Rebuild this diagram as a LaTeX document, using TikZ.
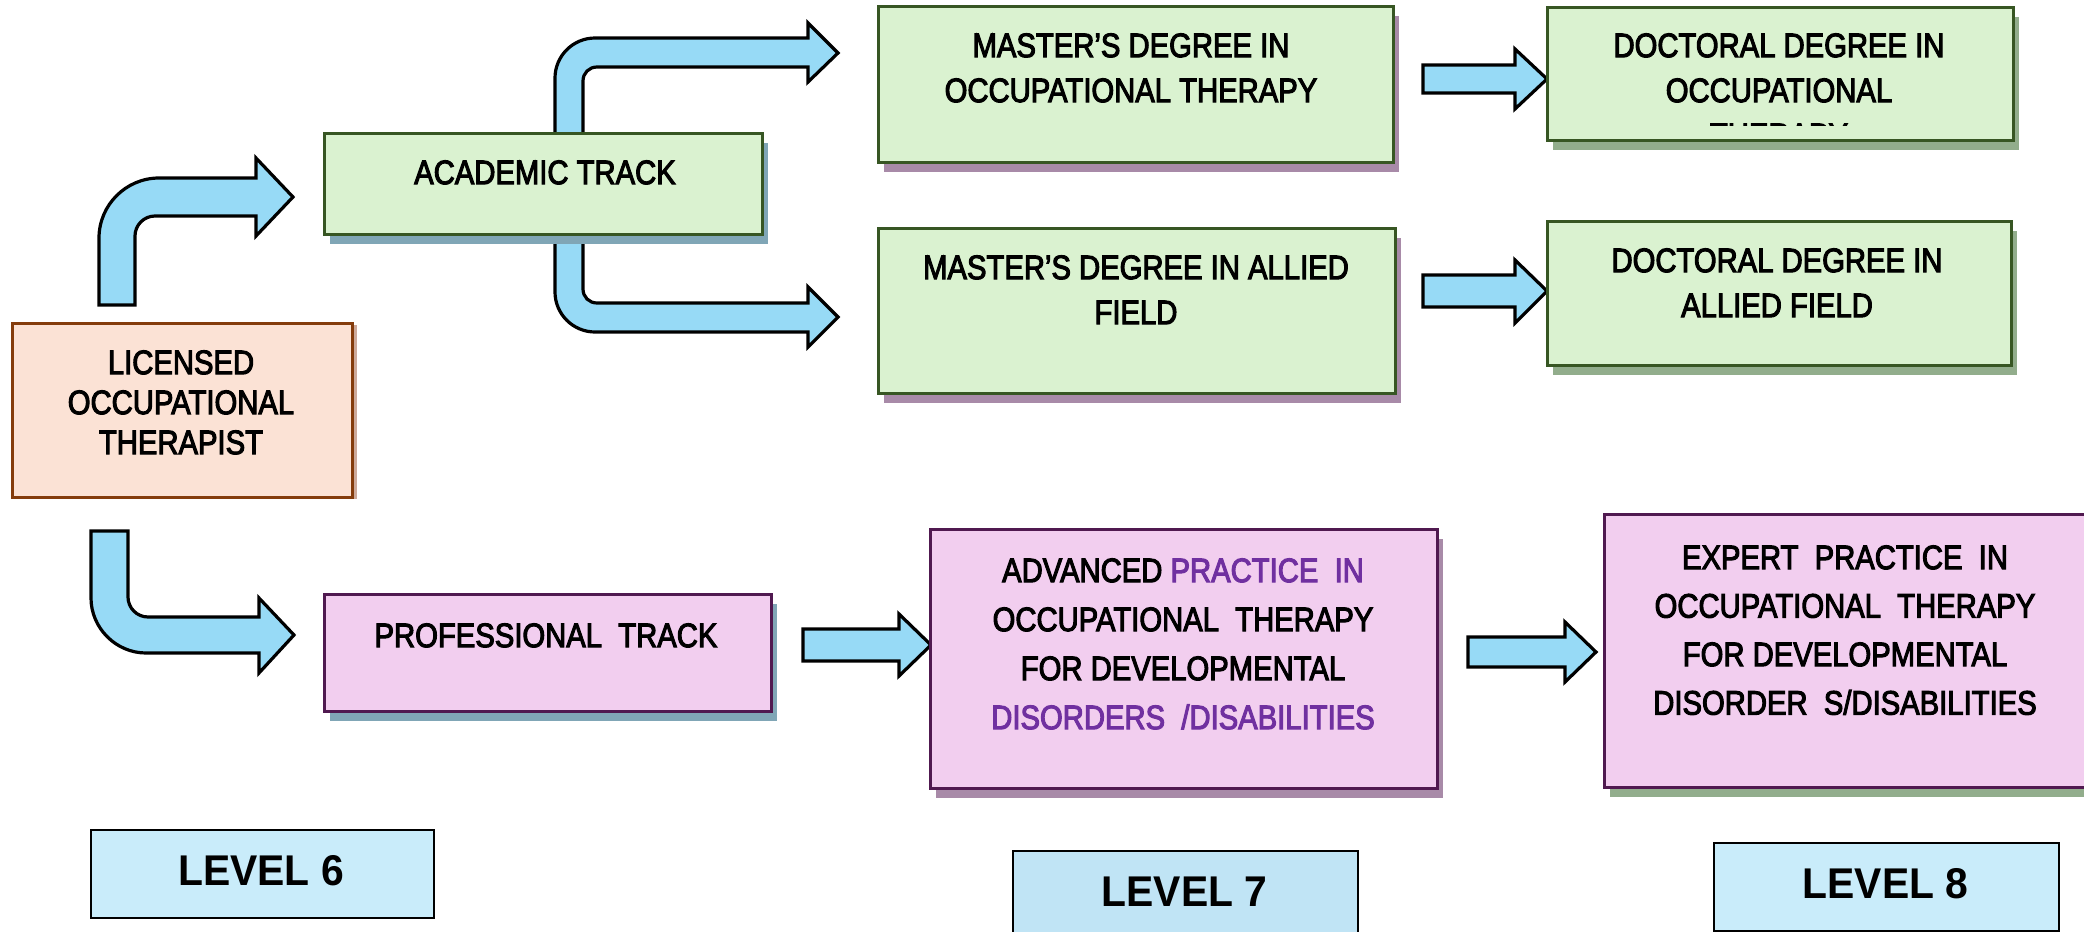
\documentclass[tikz,border=0pt]{standalone}
\usepackage{fontspec}
\setmainfont{Liberation Sans}
\newfontfamily\boxfont[FakeStretch=0.86,FakeBold=3]{Liberation Sans}
\newfontfamily\lvfont[FakeStretch=0.95]{Liberation Sans}
\usetikzlibrary{shadows}
\definecolor{arrowblue}{RGB}{151,218,246}
\definecolor{gfill}{RGB}{218,242,208}
\definecolor{gborder}{RGB}{55,86,35}
\definecolor{pfill}{RGB}{242,206,239}
\definecolor{pborder}{RGB}{80,25,80}
\definecolor{ofill}{RGB}{251,226,213}
\definecolor{oborder}{RGB}{132,60,12}
\definecolor{lvfill}{RGB}{201,236,250}
\definecolor{lvfillb}{RGB}{192,228,245}
\definecolor{shblue}{RGB}{128,166,182}
\definecolor{shmauve}{RGB}{168,138,168}
\definecolor{shgreen}{RGB}{146,173,140}
\definecolor{shbrown}{RGB}{205,170,155}
\definecolor{purpletext}{RGB}{112,48,160}
\begin{document}
\begin{tikzpicture}[x=0.5pt,y=-0.5pt,
  blk/.style={draw=black, line width=1.6pt, fill=arrowblue, line join=miter},
  gbox/.style={draw=gborder, line width=1.5pt, fill=gfill, inner sep=0},
  pbox/.style={draw=pborder, line width=1.5pt, fill=pfill, inner sep=0},
  obox/.style={draw=oborder, line width=1.5pt, fill=ofill, inner sep=0},
  lvbox/.style={draw=black, line width=1pt, fill=lvfill, inner sep=0},
  shB/.style={general shadow={fill=shblue, shadow xshift=3pt, shadow yshift=-5pt}},
  shM/.style={general shadow={fill=shmauve, shadow xshift=3pt, shadow yshift=-5pt}},
  shG/.style={general shadow={fill=shgreen, shadow xshift=3pt, shadow yshift=-5pt}},
  shO/.style={general shadow={fill=shbrown, shadow xshift=2.5pt, shadow yshift=-1pt}},
  txt/.style={font=\boxfont\fontsize{17}{22.5}\selectfont, align=center, anchor=north, inner sep=0},
  lvtxt/.style={font=\lvfont\bfseries\fontsize{21.5}{26}\selectfont, anchor=north, inner sep=0}]
\useasboundingbox (0,0) rectangle (2084,932);
\fill[white] (0,0) rectangle (2084,932);

% bent block arrows (drawn first, boxes cover stem ends)
\draw[blk] (99,305) -- (135,305) -- (135,236) .. controls (135,225) and (144,216) .. (155,216) -- (256,216) -- (256,236) -- (293,197) -- (256,158) -- (256,178) -- (159,178) .. controls (126,178) and (99,205) .. (99,238) -- cycle;
\draw[blk] (91,531) -- (128,531) -- (128,597) .. controls (128,608) and (137,617) .. (148,617) -- (259,617) -- (259,598) -- (294,635) -- (259,673) -- (259,653) -- (146,653) .. controls (116,653) and (91,628) .. (91,598) -- cycle;
\draw[blk] (555,140) -- (555,78) .. controls (555,56) and (573,38) .. (595,38) -- (808,38) -- (808,23) -- (838,53) -- (808,82) -- (808,67) -- (597,67) .. controls (589,67) and (583,73) .. (583,81) -- (583,140) -- cycle;
\draw[blk] (555,228) -- (555,292) .. controls (555,314) and (573,332) .. (595,332) -- (808,332) -- (808,347) -- (838,317) -- (808,287) -- (808,303) -- (597,303) .. controls (589,303) and (583,297) .. (583,289) -- (583,228) -- cycle;

% straight block arrows
\draw[blk] (1423,65) -- (1515,65) -- (1515,49) -- (1547,79) -- (1515,109) -- (1515,93) -- (1423,93) -- cycle;
\draw[blk] (1423,275) -- (1515,275) -- (1515,260) -- (1547,291) -- (1515,323) -- (1515,307) -- (1423,307) -- cycle;
\draw[blk] (803,629) -- (899,629) -- (899,614) -- (931,645) -- (899,676) -- (899,661) -- (803,661) -- cycle;
\draw[blk] (1468,637) -- (1565,637) -- (1565,622) -- (1596,652) -- (1565,682) -- (1565,667) -- (1468,667) -- cycle;

% boxes
\node[obox, shO, minimum width=170pt, minimum height=87pt] (lic) at (182,410) {};
\node[gbox, shB, minimum width=219pt, minimum height=50.5pt] (acad) at (543,183.5) {};
\node[gbox, shM, minimum width=257.5pt, minimum height=78pt] (mot) at (1135.5,84) {};
\node[gbox, shG, minimum width=233pt, minimum height=66.5pt] (dot) at (1780,73.5) {};
\node[gbox, shM, minimum width=258.5pt, minimum height=82.5pt] (mal) at (1136.5,310.5) {};
\node[gbox, shG, minimum width=232pt, minimum height=72pt] (dal) at (1779,293) {};
\node[pbox, shB, minimum width=223.5pt, minimum height=58.5pt] (prof) at (547.5,652.5) {};
\node[pbox, shM, minimum width=253.5pt, minimum height=129.5pt] (adv) at (1183.5,658.5) {};
\node[pbox, shG, minimum width=243pt, minimum height=136.5pt] (exp) at (1847,650.5) {};
\node[lvbox, minimum width=171.5pt, minimum height=44pt] (lv6) at (262.5,874) {};
\node[lvbox, fill=lvfillb, minimum width=172.5pt, minimum height=44.5pt] (lv7) at (1185.5,895.5) {};
\node[lvbox, minimum width=172.5pt, minimum height=44pt] (lv8) at (1886.5,887) {};

% texts
\node[txt, font=\boxfont\fontsize{17}{20}\selectfont] (licT) at (181,350) {LICENSED\\OCCUPATIONAL\\THERAPIST};
\node[txt] (acadT) at (545,160) {ACADEMIC TRACK};
\node[txt] (motT) at (1131,33) {MASTER’S DEGREE IN\\OCCUPATIONAL THERAPY};
\begin{scope}
\clip (1550,8) rectangle (2010,125);
\node[txt] (dotT) at (1779,33) {DOCTORAL DEGREE IN\\OCCUPATIONAL\\THERAPY};
\end{scope}
\node[txt] (malT) at (1136,255) {MASTER’S DEGREE IN ALLIED\\FIELD};
\node[txt] (dalT) at (1777,248) {DOCTORAL DEGREE IN\\ALLIED FIELD};
\node[txt] (profT) at (546,623) {PROFESSIONAL\ \ TRACK};
\node[txt, font=\boxfont\fontsize{17}{24.5}\selectfont] (advT) at (1183,558) {ADVANCED \textcolor{purpletext}{PRACTICE\ \ IN}\\OCCUPATIONAL\ \ THERAPY\\FOR DEVELOPMENTAL\\\textcolor{purpletext}{DISORDERS\ \ /DISABILITIES}};
\node[txt, font=\boxfont\fontsize{17}{24.25}\selectfont] (expT) at (1845,545) {EXPERT\ \ PRACTICE\ \ IN\\OCCUPATIONAL\ \ THERAPY\\FOR DEVELOPMENTAL\\DISORDER\ \ S/DISABILITIES};
\node[lvtxt] (lv6T) at (261,855) {LEVEL 6};
\node[lvtxt] (lv7T) at (1184.5,877) {LEVEL 7};
\node[lvtxt] (lv8T) at (1885.5,868) {LEVEL 8};
\end{tikzpicture}
\end{document}
